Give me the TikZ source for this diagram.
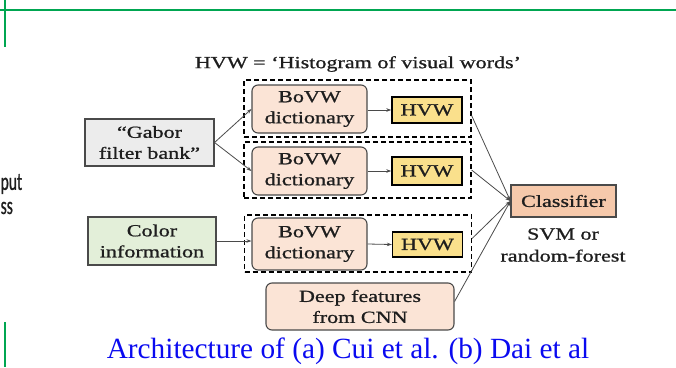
\documentclass[tikz,border=0pt]{standalone}
\usepackage{fontspec}
\setmainfont{Liberation Serif}
\newfontfamily\boxfont[FakeStretch=1.3,FakeBold=0.9]{Liberation Serif}
\newfontfamily\sidefont[FakeStretch=0.62,FakeBold=0.8]{Carlito}
\usetikzlibrary{arrows.meta}

\definecolor{rulegreen}{HTML}{00A651}
\definecolor{peach}{HTML}{FBE4D6}
\definecolor{salmon}{HTML}{F6C9AB}
\definecolor{hvwyellow}{HTML}{FAE08C}
\definecolor{gaborgray}{HTML}{ECECEC}
\definecolor{colorgreen}{HTML}{E3EFD9}
\definecolor{inkgray}{HTML}{1E1E1E}
\definecolor{edgegray}{HTML}{4A4A4A}
\definecolor{captionblue}{HTML}{0A0AF0}

\tikzset{
  lbl/.style={font=\boxfont\fontsize{17}{21}\selectfont, text=inkgray, align=center, inner sep=0pt},
  inbox/.style={lbl, draw=edgegray, line width=1.1pt},
  dictbox/.style={inbox, fill=peach, rounded corners=6pt, minimum width=115pt},
  hvwbox/.style={lbl, draw=black, line width=1.4pt, fill=hvwyellow, minimum width=70pt, minimum height=26pt},
  groupbox/.style={draw=black, dashed, dash pattern=on 5pt off 3pt, line width=1.2pt, minimum width=227pt, minimum height=57pt, inner sep=0pt},
  link/.style={draw=edgegray, line width=0.8pt, -{Stealth[length=5pt,width=3.5pt]}},
  greenrule/.style={draw=rulegreen, line width=1.8pt},
  sidetext/.style={font=\sidefont\fontsize{25}{27}\selectfont, text=inkgray, anchor=west, inner sep=0pt}
}

\begin{document}
\begin{tikzpicture}[x=1pt, y=-1pt]
\useasboundingbox (0,0) rectangle (676,367);

% page rules
\coordinate (hl) at (0,10);
\coordinate (hr) at (676,10);
\coordinate (vt) at (5,0);
\coordinate (vb) at (5,47);
\coordinate (wt) at (5,322);
\coordinate (wb) at (5,367);
\draw[greenrule] (hl) -- (hr);
\draw[greenrule] (vt) -- (vb);
\draw[greenrule] (wt) -- (wb);

% text fragments at the left edge
\node[sidetext] (sideA) at (0.5,184) {put};
\node[sidetext] (sideB) at (0.5,208) {ss};

% legend
\node[lbl] (legend) at (358,64) {HVW = ‘Histogram of visual words’};

% dashed groups
\node[groupbox] (g1) at (357.5,108.5) {};
\node[groupbox, minimum height=56pt] (g2) at (357.5,170) {};
\node[groupbox] (g3) at (358,243.5) {};

% inputs
\node[inbox, fill=gaborgray, minimum width=129pt, minimum height=47pt] (gabor) at (149.5,142.5) {“Gabor\\filter bank”};
\node[inbox, fill=colorgreen, minimum width=128pt, minimum height=48pt] (color) at (152,241) {Color\\information};

% dictionaries and histograms
\node[dictbox, minimum height=48pt] (dict1) at (309.5,109) {BoVW\\dictionary};
\node[dictbox, minimum height=48pt] (dict2) at (309.5,171) {BoVW\\dictionary};
\node[dictbox, minimum height=52pt] (dict3) at (309.5,244) {BoVW\\dictionary};
\node[hvwbox] (hvw1) at (427,110) {HVW};
\node[hvwbox, minimum height=28pt] (hvw2) at (427,171) {HVW};
\node[hvwbox, minimum height=25pt] (hvw3) at (427.5,244.5) {HVW};

% CNN features
\node[dictbox, minimum width=188pt, minimum height=47pt] (deep) at (360,306.5) {Deep features\\from CNN};

% classifier
\node[inbox, fill=salmon, minimum width=105pt, minimum height=32pt] (clf) at (563.5,201) {Classifier};
\node[lbl, text=inkgray] (clfnote) at (563,245) {SVM or\\[1pt]random-forest};

% caption
\node[font=\fontsize{29.3}{31}\selectfont, text=captionblue, inner sep=0pt] (caption) at (348,351) {Architecture of (a) Cui et al. (b) Dai et al};

% connectors
\draw[link] (gabor.east) -- (dict1.west);
\draw[link] (gabor.east) -- (dict2.west);
\draw[link] (color.east) -- (color.east -| dict3.west);
\draw[link] (dict1.east |- hvw1.west) -- (hvw1.west);
\draw[link] (dict2.east) -- (hvw2.west);
\draw[link] (dict3.east) -- (hvw3.west);
\draw[link] ([yshift=-7pt]g1.east) -- (clf.west);
\draw[link] (g2.east) -- (clf.west);
\draw[link] ([yshift=5pt]g3.east) -- (clf.west);
\draw[link] ([yshift=5pt]deep.east) -- (clf.west);
\end{tikzpicture}
\end{document}
